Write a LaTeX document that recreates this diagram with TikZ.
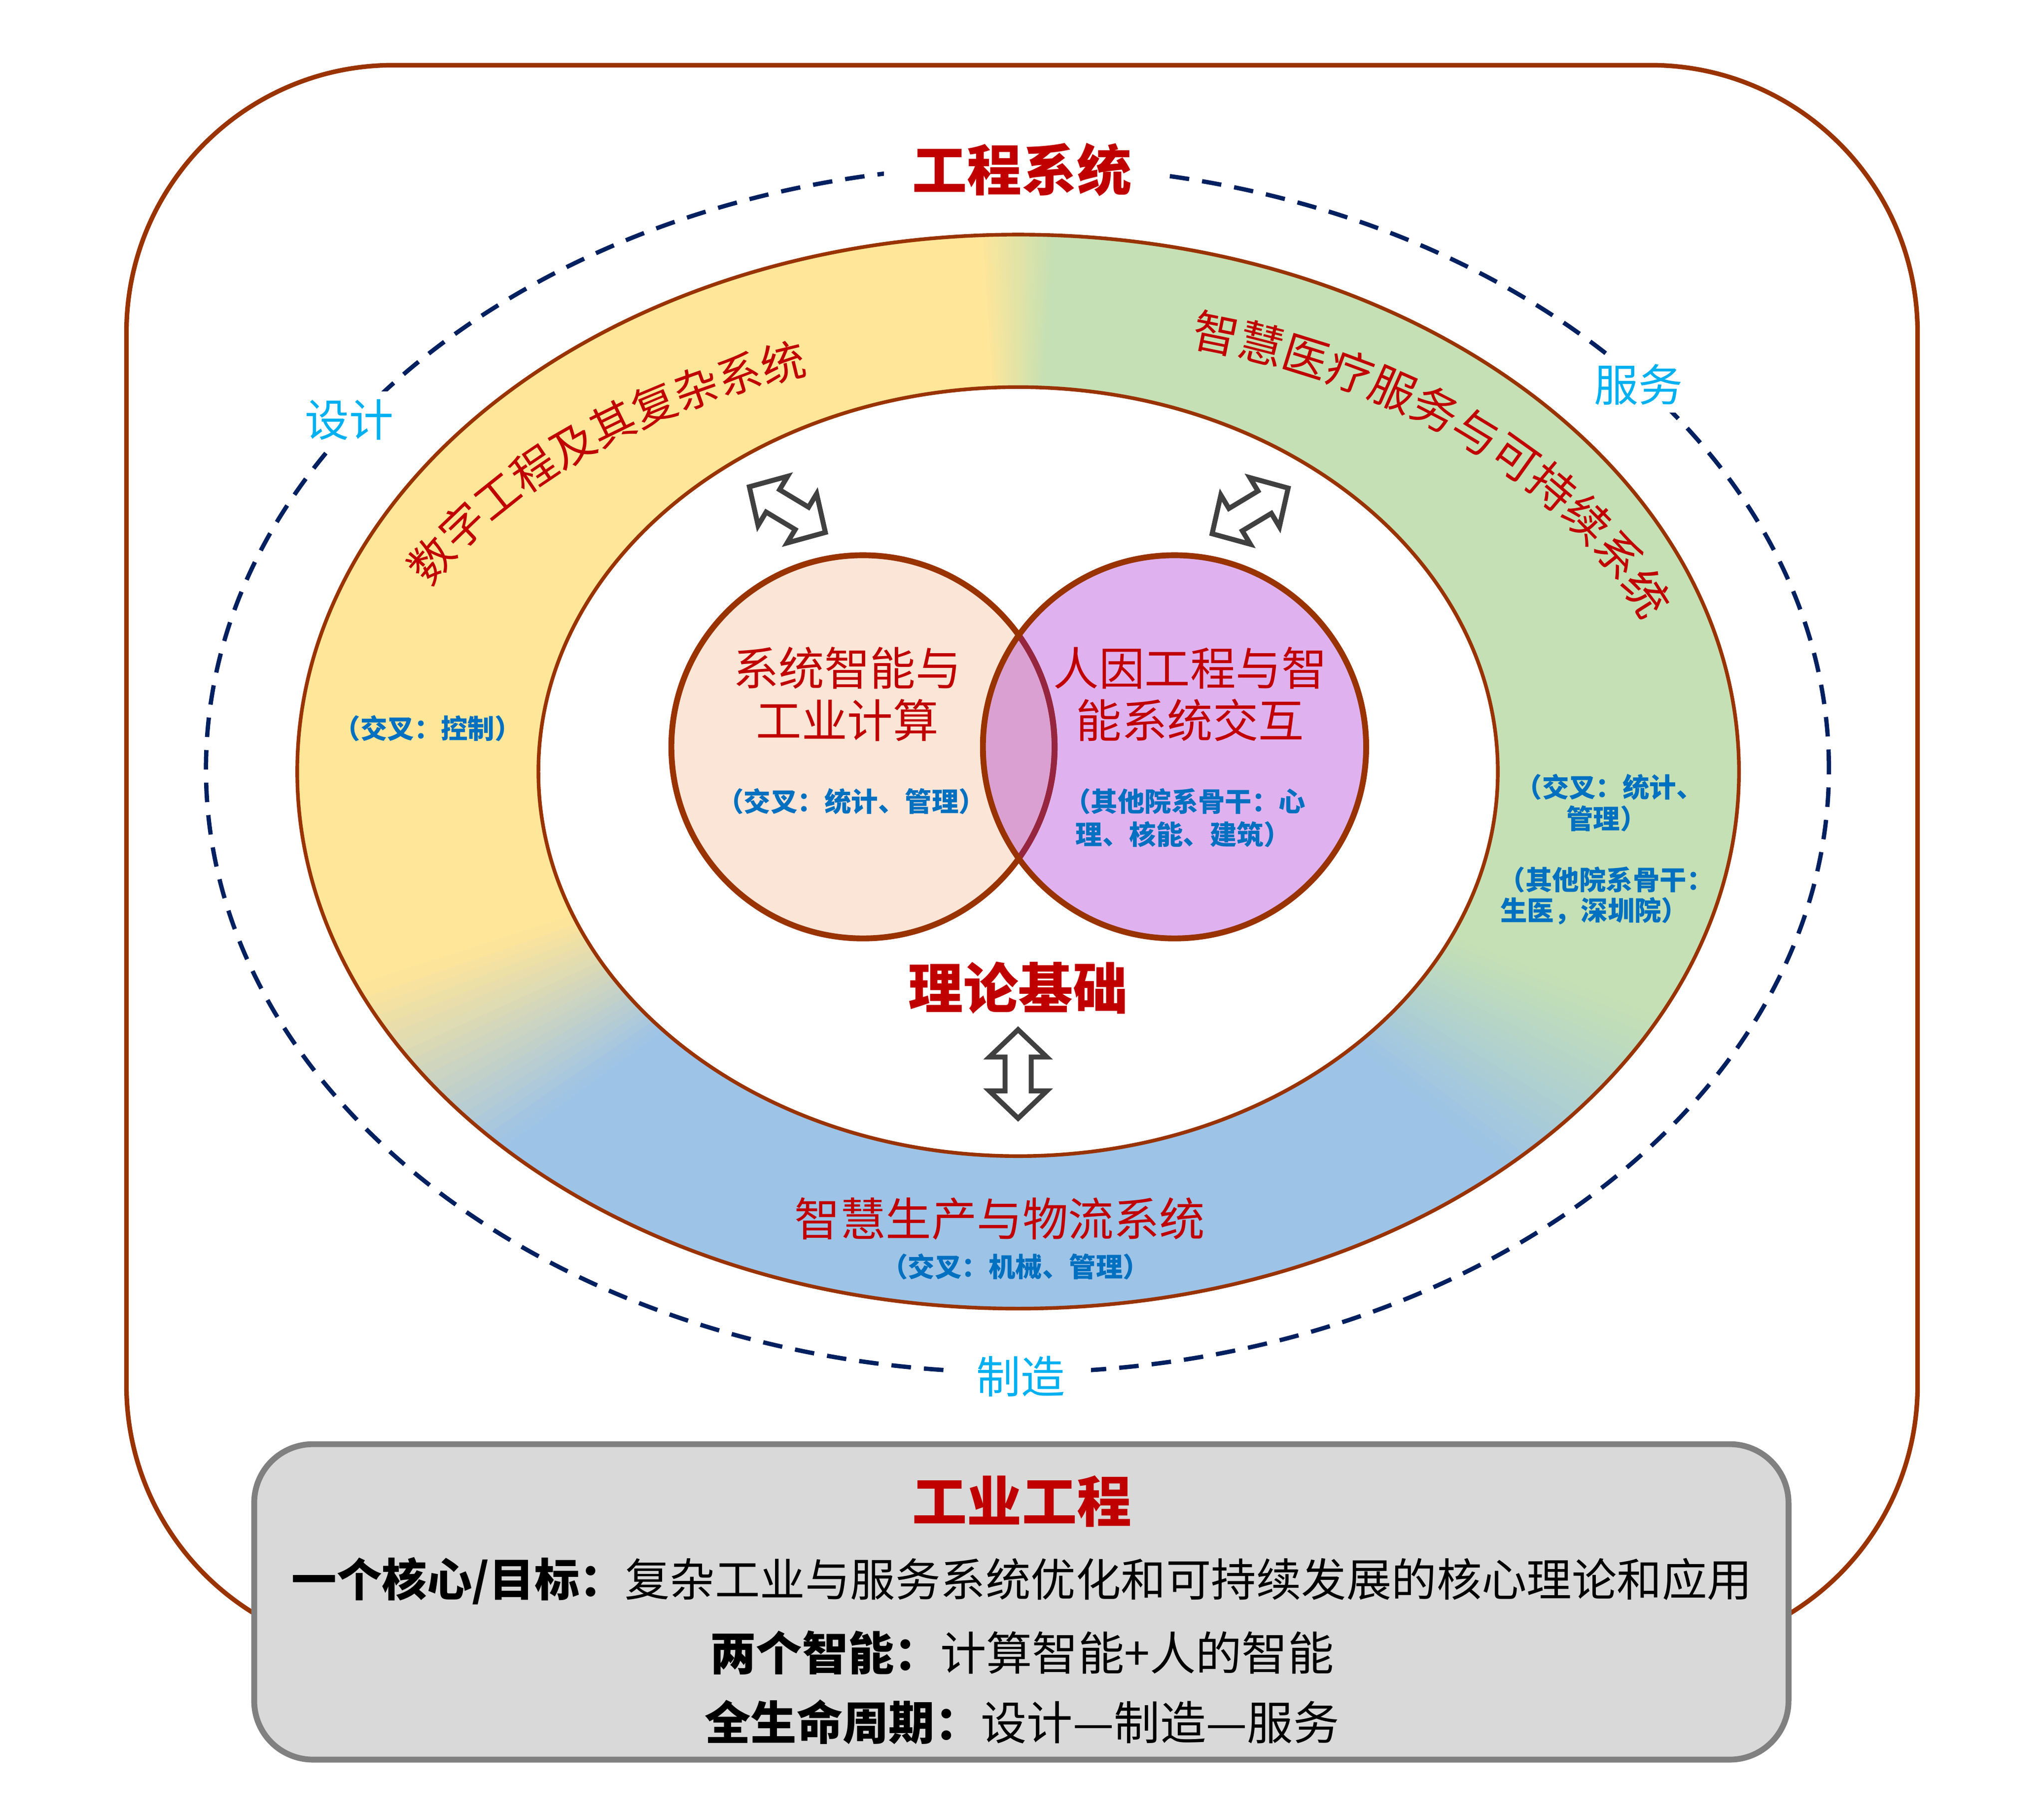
\documentclass[tikz,border=0pt]{standalone}
\usepackage{fontspec}
\setmainfont{Noto Sans CJK SC}
\usetikzlibrary{decorations.text,calc}
\definecolor{brn}{HTML}{993300}
\definecolor{navy}{HTML}{002060}
\definecolor{yel}{HTML}{FFE699}
\definecolor{grn}{HTML}{C5E0B4}
\definecolor{blu}{HTML}{9DC3E6}
\definecolor{redc}{HTML}{C00000}
\definecolor{bluet}{HTML}{0070C0}
\definecolor{cyanc}{HTML}{00B0F0}
\definecolor{peach}{HTML}{FBE5D6}
\definecolor{lilac}{HTML}{DFB2EF}
\definecolor{ovl}{HTML}{DBA0D2}
\definecolor{maroonc}{HTML}{962640}
\definecolor{arrg}{HTML}{404040}
\definecolor{boxfill}{HTML}{D9D9D9}
\definecolor{boxline}{HTML}{808080}
\newcommand\fsz[1]{\fontsize{#1pt}{#1pt}\selectfont}
\newcommand\curvefontL{\fsz{34}\color{redc}}
\newcommand\curvefontR{\fsz{35}\color{redc}}
\newcommand\ringblend[4]{%
  \foreach \i in {0,...,19}{%
    \pgfmathsetmacro\aS{#1+#2-#2*\i/10+0.15}%
    \pgfmathsetmacro\aE{#1+#2-#2*(\i+1)/10-0.15}%
    \pgfmathtruncatemacro\p{5*\i+2}%
    \fill[#4!\p!#3] (0,0) -- (\aS:720) -- (\aE:720) -- cycle;%
  }}
\begin{document}
\begin{tikzpicture}[x=1pt,y=1pt,
  smallblue/.style={inner sep=0pt, text=bluet, font=\bfseries\fsz{20.6}},
  redmid/.style={inner sep=0pt, text=redc, font=\fsz{35}},
  redbig/.style={inner sep=0pt, text=redc, font=\bfseries\fsz{42}},
  phase/.style={fill=white, text=cyanc, font=\fsz{34}, inner xsep=20pt, inner ysep=6pt},
  boxtext/.style={inner sep=0pt, text=black, font=\fsz{35.3}},
  arrowline/.style={draw=arrg, fill=white, line width=3.8pt, line join=miter},
  ringline/.style={draw=brn, line width=2.8pt},
  vennline/.style={draw=brn, line width=4.5pt},
  dblarr/.pic={\path[arrowline] (-34,0) -- (-13,22) -- (-13,10) -- (13,10) -- (13,22) -- (34,0) -- (13,-22) -- (13,-10) -- (-13,-10) -- (-13,-22) -- cycle;}
]
\useasboundingbox (0,-7) rectangle (1568,1386);
\fill[white] (0,-7) rectangle (1568,1386);
\coordinate (C) at (781,794);
\coordinate (D) at (780.5,796);
% outer frame
\draw[brn, line width=3.5pt, rounded corners=205pt] (97,118) rectangle (1471,1336);
% dashed life-cycle ellipse
\draw[navy, line width=3.3pt, dash pattern=on 15pt off 10pt] (D) ellipse [x radius=622.5pt, y radius=463pt];
% coloured ring
\begin{scope}
  \clip (C) ellipse [x radius=553pt, y radius=412pt];
  \begin{scope}[shift={(C)}]
    \fill[blu] (-720,-720) rectangle (720,720);
    \fill[yel] (0,0) -- (90:720) -- (135:720) -- (180:720) -- (207:720) -- cycle;
    \fill[grn] (0,0) -- (-30:720) -- (0:720) -- (45:720) -- (90:720) -- cycle;
    \ringblend{90}{4}{yel}{grn}
    \ringblend{207}{9}{blu}{yel}
    \ringblend{330}{9}{grn}{blu}
  \end{scope}
\end{scope}
\fill[white] (C) ellipse [x radius=368pt, y radius=295pt];
\draw[ringline] (C) ellipse [x radius=553pt, y radius=412pt];
\draw[ringline] (C) ellipse [x radius=368pt, y radius=295pt];
% curved ring titles
\path[decorate, decoration={text along path, text align=left, text={|\curvefontL|数字工程及其复杂系统}}]
  ($(C)+(154:502 and 322)$) arc[start angle=154, end angle=92, x radius=502pt, y radius=322pt];
\path[decorate, decoration={text along path, text align=left, text={|\curvefontR|智慧医疗服务与可持续系统}}]
  ($(C)+(75:510 and 338)$) arc[start angle=75, end angle=0, x radius=510pt, y radius=338pt];
% Venn circles
\coordinate (L) at (662,813);
\coordinate (R) at (901,813);
\fill[peach] (L) circle[radius=147pt];
\fill[lilac] (R) circle[radius=147pt];
\begin{scope}
  \clip (L) circle[radius=147pt];
  \fill[ovl] (R) circle[radius=147pt];
\end{scope}
\draw[vennline] (L) circle[radius=147pt];
\begin{scope}
  \clip (R) circle[radius=147pt];
  \draw[vennline, draw=maroonc] (L) circle[radius=147pt];
\end{scope}
\draw[vennline] (R) circle[radius=147pt];
% arrows
\pic[rotate=-31] at (604,995) {dblarr};
\pic[rotate=31] at (959,994) {dblarr};
\pic[rotate=90] at (781,562) {dblarr};
% Venn texts
\node[redmid] (v1a) at (650,873.5) {系统智能与};
\node[redmid] (v1b) at (650,833.5) {工业计算};
\node[smallblue] (v1c) at (653,771) {（交叉：统计、管理）};
\node[redmid] (v2a) at (913,873.5) {人因工程与智};
\node[redmid] (v2b) at (913,833.5) {能系统交互};
\node[smallblue, anchor=west] (v2c) at (816,771) {（其他院系骨干：心};
\node[smallblue, anchor=west] (v2d) at (825,746) {理、核能、建筑）};
\node[redbig] (theory) at (781,628) {理论基础};
% ring texts
\node[smallblue] (lring) at (328,827) {（交叉：控制）};
\node[redmid] (bring) at (767,451) {智慧生产与物流系统};
\node[smallblue] (bring2) at (779,414) {（交叉：机械、管理）};
\node[smallblue] (rr1) at (1234.5,782) {（交叉：统计、};
\node[smallblue] (rr2) at (1232.5,758) {管理）};
\node[smallblue] (rr3) at (1232,711) {（其他院系骨干：};
\node[smallblue] (rr4) at (1223,687) {生医，深圳院）};
% labels on dashed ellipse
\node[redbig, fill=white, inner xsep=22pt, inner ysep=4pt] (eng) at (784,1256) {工程系统};
\node[phase] (design) at (268,1064) {设计};
\node[phase] (service) at (1257,1091) {服务};
\node[phase] (manu) at (783,330) {制造};
% bottom box
\node[draw=boxline, fill=boxfill, line width=4.5pt, rounded corners=45pt, minimum width=1177pt, minimum height=242pt, inner sep=0pt] (goal) at (783.5,157) {};
\node[redbig] (ietitle) at (784,234) {工业工程};
\node[boxtext, font=\fsz{34.6}] (l1) at (784,173) {{\bfseries 一个核心/目标：}复杂工业与服务系统优化和可持续发展的核心理论和应用};
\node[boxtext] (l2) at (784,118) {{\bfseries 两个智能：}计算智能+人的智能};
\node[boxtext] (l3) at (784,65) {{\bfseries 全生命周期：}设计—制造—服务};
\end{tikzpicture}
\end{document}
